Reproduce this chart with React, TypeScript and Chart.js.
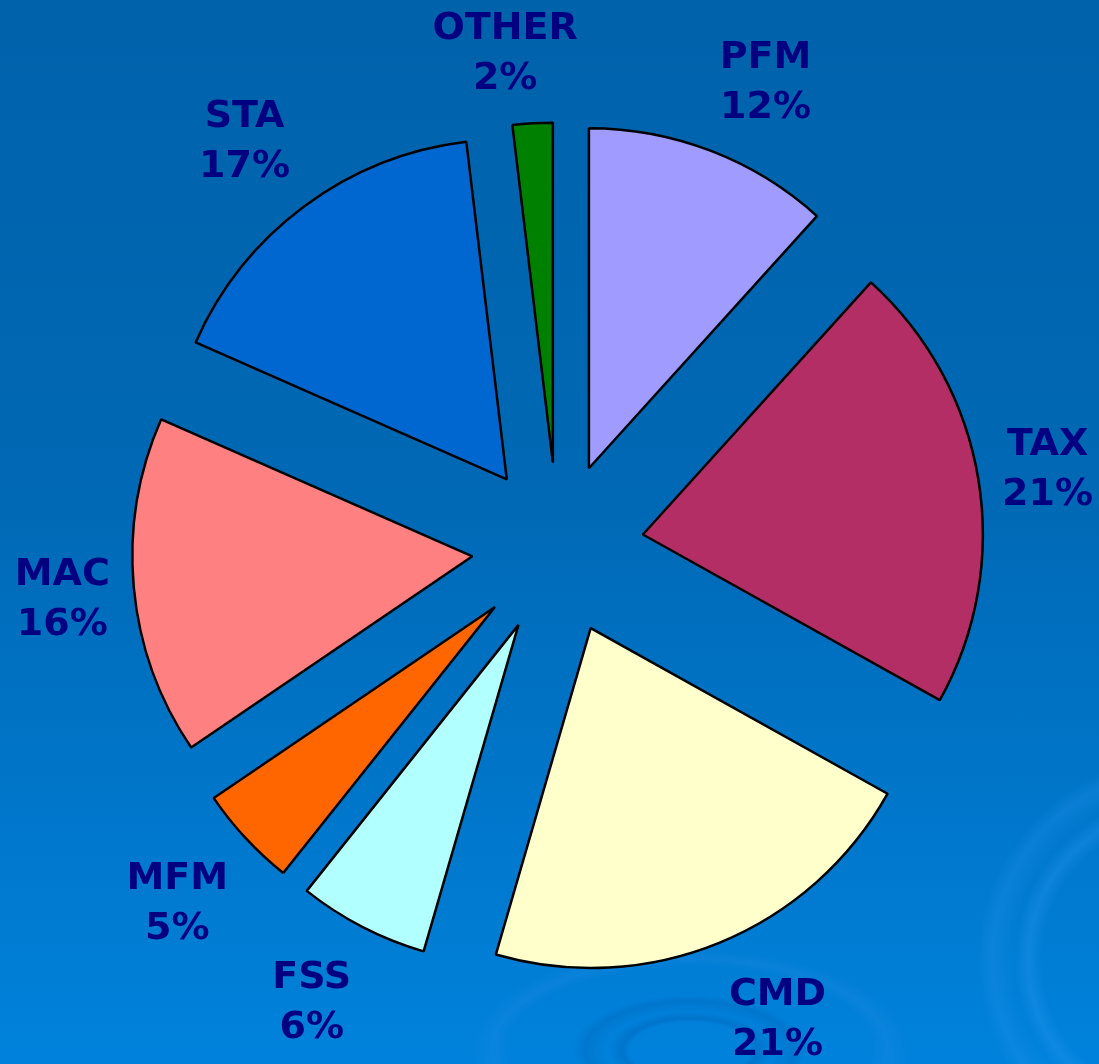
import React, { useEffect, useRef } from "react";
import { Chart, registerables } from "chart.js";

Chart.register(...registerables);

const categories = ["PFM", "TAX", "CMD", "FSS", "MFM", "MAC", "STA", "OTHER"];
const shares = [11.7, 21.4, 21.4, 6.2, 4.8, 16.1, 16.5, 1.9];
const sliceColors = ["#a09cff", "#b22e64", "#ffffcc", "#b2ffff", "#ff6600", "#ff8080", "#0066d0", "#008000"];

const FONT = "bold 38px 'DejaVu Sans', Verdana, sans-serif";
const LINE_H = 50;
const LABEL_GAP = 24;
const LABEL_DY = 5;
const EXPLODE = 86;

// Pull every slice outward from the pie centre along its bisector.
const explodePlugin = {
  id: "explode",
  afterDatasetUpdate(chart: any, args: any) {
    const meta = chart.getDatasetMeta(args.index);
    meta.data.forEach((arc: any) => {
      const a = (arc.startAngle + arc.endAngle) / 2;
      arc.x = arc.x + Math.cos(a) * EXPLODE;
      arc.y = arc.y + Math.sin(a) * EXPLODE;
    });
  },
};

const clamp = (v: number) => Math.max(-1, Math.min(1, v));

const labelPlugin = {
  id: "outerLabels",
  afterDatasetsDraw(chart: any) {
    const ctx = chart.ctx;
    const meta = chart.getDatasetMeta(0);
    const data = chart.data.datasets[0].data as number[];
    const total = data.reduce((a, b) => a + b, 0);
    ctx.save();
    ctx.font = FONT;
    ctx.fillStyle = "#000080";
    ctx.textAlign = "center";
    ctx.textBaseline = "middle";
    meta.data.forEach((arc: any, i: number) => {
      const a = (arc.startAngle + arc.endAngle) / 2;
      const ux = Math.cos(a);
      const uy = Math.sin(a);
      const l1 = String(chart.data.labels[i]);
      const l2 = Math.round((data[i] / total) * 100) + "%";
      const w = Math.max(ctx.measureText(l1).width, ctx.measureText(l2).width) / 2;
      const h = LINE_H;
      const r = arc.outerRadius + LABEL_GAP;
      const cx = arc.x + r * ux + w * clamp(6 * ux);
      const cy = arc.y + r * uy + h * clamp(1.3 * uy) + LABEL_DY;
      ctx.fillText(l1, cx, cy - LINE_H / 2);
      ctx.fillText(l2, cx, cy + LINE_H / 2);
    });
    ctx.restore();
  },
};

export default function App() {
  const ref = useRef<HTMLCanvasElement>(null);
  useEffect(() => {
    if (!ref.current) return;
    const chart = new Chart(ref.current, {
      type: "pie",
      data: {
        labels: categories,
        datasets: [
          {
            data: shares,
            backgroundColor: sliceColors,
            borderColor: "#000000",
            borderWidth: 2.5,
            radius: 340,
          } as any,
        ],
      },
      options: {
        responsive: false,
        animation: false,
        layout: { padding: { left: 17, right: 0, top: 33, bottom: 0 } },
        plugins: {
          legend: { display: false },
          tooltip: { enabled: false },
        },
      },
      plugins: [explodePlugin, labelPlugin],
    });
    return () => chart.destroy();
  }, []);

  const bg = [
    "radial-gradient(ellipse 150px 70px at 690px 1050px, transparent 40%, rgba(0,60,140,0.18) 45%, transparent 55%, rgba(0,60,140,0.14) 70%, transparent 78%)",
    "radial-gradient(ellipse 260px 120px at 690px 1050px, transparent 70%, rgba(40,140,230,0.25) 76%, transparent 84%)",
    "radial-gradient(circle 230px at 1180px 960px, transparent 60%, rgba(40,150,240,0.35) 66%, transparent 72%, rgba(40,150,240,0.25) 82%, transparent 88%)",
    "linear-gradient(180deg, #0062ab 0%, #0068b4 45%, #0082dc 100%)",
  ].join(",");

  return (
    <div
      style={{
        position: "absolute",
        left: 0,
        top: 0,
        width: 1099,
        height: 1064,
        background: bg,
        overflow: "hidden",
      }}
    >
      <canvas ref={ref} width={1099} height={1064} style={{ display: "block" }} />
    </div>
  );
}
